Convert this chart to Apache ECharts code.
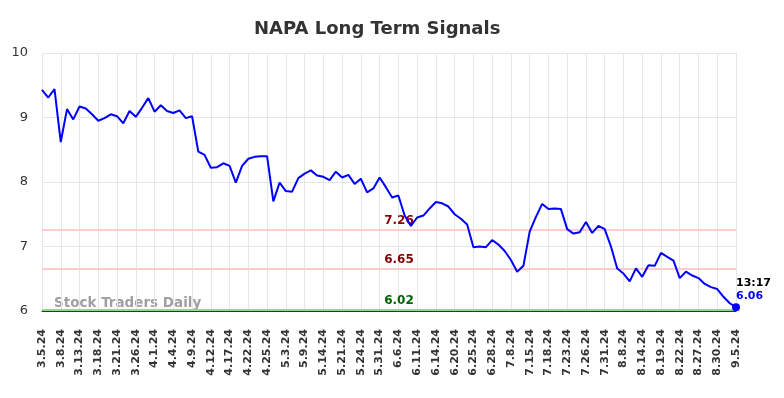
<!DOCTYPE html>
<html>
<head>
<meta charset="utf-8">
<script src="https://cdn.jsdelivr.net/npm/echarts@6/dist/echarts.min.js"></script>
<style>
  html, body { margin: 0; padding: 0; background: #fff; }
  #chart { width: 784px; height: 398px; }
</style>
</head>
<body>
<div id="chart"></div>
<script>
'use strict';

// --- trading dates (every 3rd one is shown on the axis)
var dates = [
  '3.5.24', '3.6.24', '3.7.24', '3.8.24', '3.11.24', '3.12.24', '3.13.24', '3.14.24', '3.15.24', '3.18.24',
  '3.19.24', '3.20.24', '3.21.24', '3.22.24', '3.25.24', '3.26.24', '3.27.24', '3.28.24', '4.1.24', '4.2.24',
  '4.3.24', '4.4.24', '4.5.24', '4.8.24', '4.9.24', '4.10.24', '4.11.24', '4.12.24', '4.15.24', '4.16.24',
  '4.17.24', '4.18.24', '4.19.24', '4.22.24', '4.23.24', '4.24.24', '4.25.24', '4.29.24', '5.1.24', '5.3.24',
  '5.6.24', '5.8.24', '5.9.24', '5.10.24', '5.13.24', '5.14.24', '5.16.24', '5.20.24', '5.21.24', '5.22.24',
  '5.23.24', '5.24.24', '5.28.24', '5.30.24', '5.31.24', '6.3.24', '6.5.24', '6.6.24', '6.7.24', '6.10.24',
  '6.11.24', '6.12.24', '6.13.24', '6.14.24', '6.17.24', '6.18.24', '6.20.24', '6.21.24', '6.24.24', '6.25.24',
  '6.26.24', '6.27.24', '6.28.24', '7.2.24', '7.5.24', '7.8.24', '7.10.24', '7.12.24', '7.15.24', '7.16.24',
  '7.17.24', '7.18.24', '7.19.24', '7.22.24', '7.23.24', '7.24.24', '7.25.24', '7.26.24', '7.29.24', '7.30.24',
  '7.31.24', '8.2.24', '8.6.24', '8.8.24', '8.9.24', '8.12.24', '8.14.24', '8.15.24', '8.16.24', '8.19.24',
  '8.20.24', '8.21.24', '8.22.24', '8.23.24', '8.26.24', '8.27.24', '8.28.24', '8.29.24', '8.30.24', '9.3.24',
  '9.4.24', '9.5.24'
];

var prices = [
  9.43, 9.31, 9.44, 8.62, 9.13, 8.97, 9.17, 9.14, 9.05, 8.95,
  8.99, 9.05, 9.02, 8.91, 9.10, 9.01, 9.15, 9.30, 9.09, 9.19,
  9.10, 9.07, 9.11, 8.99, 9.02, 8.47, 8.42, 8.22, 8.23, 8.29,
  8.25, 7.99, 8.25, 8.36, 8.39, 8.40, 8.40, 7.70, 7.99, 7.86,
  7.85, 8.06, 8.13, 8.18, 8.10, 8.08, 8.03, 8.16, 8.07, 8.11,
  7.97, 8.05, 7.84, 7.90, 8.07, 7.92, 7.76, 7.79, 7.48, 7.32,
  7.45, 7.48, 7.59, 7.69, 7.67, 7.62, 7.50, 7.43, 7.34, 6.99,
  7.00, 6.99, 7.10, 7.03, 6.93, 6.79, 6.61, 6.70, 7.23, 7.46,
  7.66, 7.58, 7.59, 7.58, 7.27, 7.20, 7.22, 7.38, 7.21, 7.32,
  7.27, 7.00, 6.66, 6.58, 6.46, 6.66, 6.53, 6.71, 6.70, 6.90,
  6.84, 6.78, 6.51, 6.61, 6.55, 6.51, 6.42, 6.37, 6.34, 6.22,
  6.12, 6.06
];

var yTicks = [6, 7, 8, 9, 10];
var upperSignal = 7.26;
var middleSignal = 6.65;
var lowerSignal = 6.02;
var lastTime = '13:17';

var font = 'DejaVu Sans';
var myChart = echarts.init(document.getElementById('chart'), null, { renderer: 'canvas' });

// only the last point gets a marker + label
var lineData = prices.map(function (v, idx, arr) {
  if (idx === arr.length - 1) {
    return {
      value: v,
      symbol: 'circle',
      symbolSize: 8,
      itemStyle: { color: '#0000ff' },
      label: {
        show: true,
        position: [4, -26],
        align: 'left',
        formatter: '{t|' + lastTime + '}\n{v|' + v.toFixed(2) + '}',
        rich: {
          t: { fontFamily: font, fontWeight: 'bold', fontSize: 11, color: '#000', lineHeight: 13 },
          v: { fontFamily: font, fontWeight: 'bold', fontSize: 11, color: '#0000ff', lineHeight: 13 }
        }
      }
    };
  }
  return v;
});

function signalLine(val, lineColor, textColor) {
  return {
    yAxis: val,
    lineStyle: { color: lineColor, width: 2, type: 'solid' },
    label: {
      show: true,
      position: 'insideMiddleTop',
      offset: [10, 2],
      formatter: val.toFixed(2),
      fontFamily: font,
      fontWeight: 'bold',
      fontSize: 12,
      color: textColor
    }
  };
}

var option = {
  animation: false,
  backgroundColor: '#fff',
  title: {
    text: 'NAPA Long Term Signals',
    left: 249,
    top: 15,
    textStyle: { fontFamily: font, fontSize: 18, fontWeight: 'bold', color: '#333' }
  },
  grid: { left: 42, right: 48, top: 53, bottom: 87, containLabel: false },
  xAxis: {
    type: 'category',
    data: dates,
    boundaryGap: false,
    axisLine: { show: true, lineStyle: { color: '#333', width: 1 } },
    axisTick: { show: false },
    axisLabel: {
      interval: 2,
      rotate: 90,
      margin: 18,
      fontFamily: font,
      fontSize: 11,
      fontWeight: 'bold',
      color: '#333'
    },
    splitLine: { show: true, interval: 2, lineStyle: { color: '#e6e6e6', width: 1 } }
  },
  yAxis: {
    type: 'value',
    min: yTicks[0],
    max: yTicks[yTicks.length - 1],
    interval: 1,
    axisLine: { show: false },
    axisTick: { show: false },
    axisLabel: { fontFamily: font, fontSize: 13, color: '#333', margin: 14 },
    splitLine: { show: true, lineStyle: { color: '#e6e6e6', width: 1 } }
  },
  graphic: [{
    type: 'text',
    left: 54,
    top: 296,
    style: {
      text: 'Stock Traders Daily',
      font: 'bold 13.5px "DejaVu Sans"',
      fill: '#a0a0a0'
    }
  }],
  series: [{
    type: 'line',
    data: lineData,
    showSymbol: true,
    symbol: 'none',
    lineStyle: { color: '#0000ff', width: 2 },
    itemStyle: { color: '#0000ff' },
    z: 5,
    markLine: {
      silent: true,
      symbol: 'none',
      data: [
        signalLine(upperSignal, '#ffcccc', '#8b0000'),
        signalLine(middleSignal, '#ffcccc', '#8b0000'),
        signalLine(lowerSignal, '#90d890', '#006400')
      ]
    }
  }]
};

myChart.setOption(option);
</script>
</body>
</html>
